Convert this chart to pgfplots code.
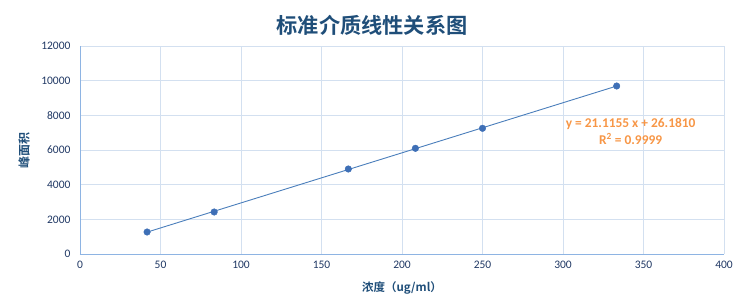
\documentclass[border=0pt]{standalone}
\usepackage{fontspec}
\setmainfont{Carlito}
\newfontfamily\cjk{Noto Sans CJK SC}
\newfontfamily\cjkb{Noto Sans CJK SC Bold}
\usepackage{pgfplots}
\pgfplotsset{compat=1.18}
\definecolor{titleblue}{HTML}{1F4E79}
\definecolor{ticknavy}{HTML}{203864}
\definecolor{gridblue}{HTML}{D3E0F0}
\definecolor{axisblue}{HTML}{8EB4E3}
\definecolor{ptblue}{HTML}{3E6FB6}
\definecolor{lineblue}{HTML}{4A7EBB}
\definecolor{eqorange}{HTML}{F79646}
\begin{document}
\begin{tikzpicture}[x=1pt,y=1pt]
\useasboundingbox (0,0) rectangle (739,306);
\node[font=\cjkb\fontsize{21.2}{23}\selectfont, text=titleblue] at (372,281) {标准介质线性关系图};
\begin{axis}[
  at={(80pt,52pt)}, anchor=south west,
  scale only axis, width=644pt, height=208pt,
  xmin=0, xmax=400, ymin=0, ymax=12000,
  xtick={0,50,...,400}, ytick={0,2000,...,12000},
  grid=major,
  major grid style={gridblue, line width=0.8pt},
  axis x line*=bottom, axis y line*=left,
  axis line style={axisblue, line width=0.8pt, -},
  tick style={draw=none},
  /pgf/number format/assume math mode=true,
  /pgf/number format/1000 sep={},
  scaled y ticks=false,
  ticklabel style={font=\fontsize{11.5}{13}\selectfont, text=ticknavy},
  yticklabel style={xshift=-6pt},
  xticklabel style={yshift=-4pt},
  xlabel={\cjkb 浓度（ug/ml）},
  ylabel={\cjkb 峰面积},
  xlabel style={font=\fontsize{11.5}{13}\selectfont, text=titleblue, at={(axis description cs:0.5,-0.165)}, anchor=center},
  ylabel style={font=\fontsize{12}{13}\selectfont, text=titleblue, at={(axis description cs:-0.087,0.5)}, anchor=center},
  clip=false,
]
\addplot[lineblue, line width=0.9pt, no marks] coordinates {(41.67,1262) (333.33,9690)};
\addplot[only marks, mark=*, mark size=3.3pt, mark options={fill=ptblue, draw=ptblue}] coordinates {
(41.67,1269) (83.33,2423) (166.67,4904) (208.33,6098) (250,7252) (333.33,9692)};
\node[font=\bfseries\fontsize{13.4}{17}\selectfont, text=eqorange, align=center] at (axis cs:342,7080) {y = 21.1155 x + 26.1810\\R\textsuperscript{2} = 0.9999};
\end{axis}
\end{tikzpicture}
\end{document}
